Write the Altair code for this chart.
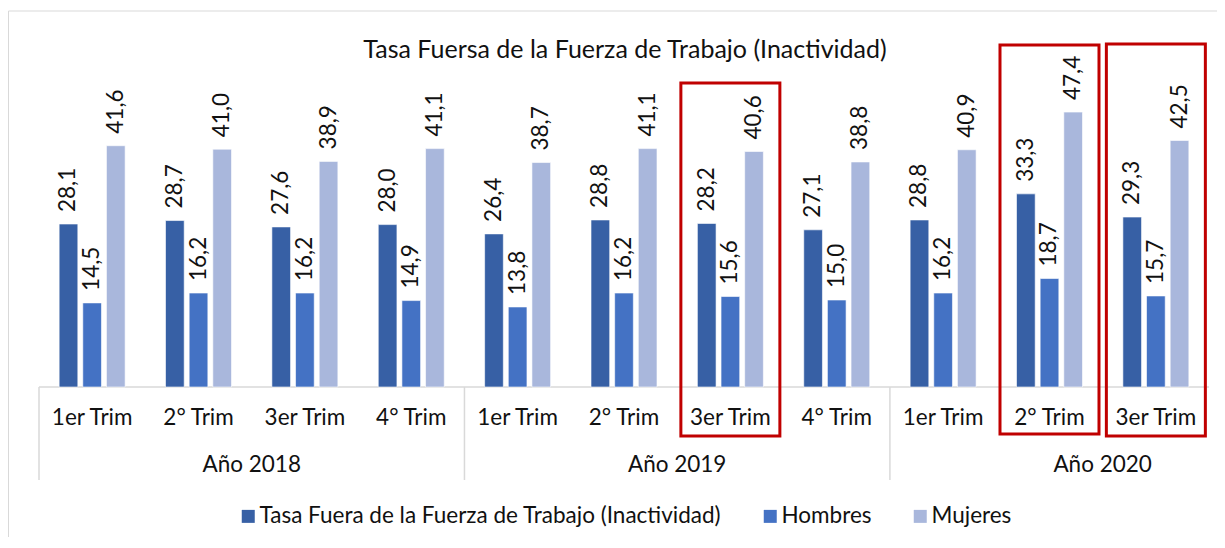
import altair as alt
import pandas as pd

# ---------------- data ----------------
quarters = ["1er Trim", "2° Trim", "3er Trim", "4° Trim",
            "1er Trim", "2° Trim", "3er Trim", "4° Trim",
            "1er Trim", "2° Trim", "3er Trim"]
years = ["Año 2018"] * 4 + ["Año 2019"] * 4 + ["Año 2020"] * 3
tasa = [28.1, 28.7, 27.6, 28.0, 26.4, 28.8, 28.2, 27.1, 28.8, 33.3, 29.3]
hombres = [14.5, 16.2, 16.2, 14.9, 13.8, 16.2, 15.6, 15.0, 16.2, 18.7, 15.7]
mujeres = [41.6, 41.0, 38.9, 41.1, 38.7, 41.1, 40.6, 38.8, 40.9, 47.4, 42.5]
series_names = ["Tasa Fuera de la Fuerza de Trabajo (Inactividad)", "Hombres", "Mujeres"]
series_colors = ["#3760A5", "#4472C4", "#A9B7DC"]
title_text = "Tasa Fuersa de la Fuerza de Trabajo (Inactividad)"

# ---------------- tables ----------------
keys = [f"{y}|{q}" for y, q in zip(years, quarters)]
rows = []
for i, k in enumerate(keys):
    for s, vals in zip(series_names, [tasa, hombres, mujeres]):
        rows.append({"key": k, "series": s, "value": vals[i]})
df = pd.DataFrame(rows)
df_q = pd.DataFrame({"key": keys, "quarter": quarters})
starts = [i for i in range(len(years)) if i == 0 or years[i] != years[i - 1]]
df_sep = pd.DataFrame({"pos": starts})
df_year = pd.DataFrame({"pos": [s + 2 for s in starts],
                        "year": [years[s] for s in starts]})
one = pd.DataFrame({"t": [title_text]})

FONT = "Lato"
TXT = "#111111"
GRID = "#d9d9d9"
FS = 22.5
W, H = 1170, 290
n = len(keys)

x_band = alt.X("key:N", axis=None,
               scale=alt.Scale(domain=keys, paddingInner=0.333, paddingOuter=0.166))
x_off = alt.XOffset("series:N",
                    scale=alt.Scale(domain=series_names, paddingInner=0.21, paddingOuter=0.105))
y_val = alt.Y("value:Q", axis=None, scale=alt.Scale(domain=[0, 50], nice=False))
x_lin = alt.X("pos:Q", axis=None, scale=alt.Scale(domain=[0, n], nice=False, zero=False))

bars = alt.Chart(df).mark_bar(stroke="white", strokeWidth=0.6).encode(
    x=x_band, xOffset=x_off, y=y_val,
    color=alt.Color("series:N",
                    scale=alt.Scale(domain=series_names, range=series_colors),
                    legend=alt.Legend(orient="none", legendX=198, legendY=408,
                                      direction="horizontal", title=None,
                                      symbolType="square", symbolSize=169,
                                      symbolStrokeWidth=0, labelFont=FONT,
                                      labelFontSize=FS, labelColor=TXT,
                                      labelOffset=0, columnPadding=37,
                                      labelLimit=800)),
)

labels = alt.Chart(df).transform_calculate(
    lbl="replace(format(datum.value, '.1f'), '.', ',')"
).mark_text(angle=270, align="left", baseline="middle", dx=12,
            font=FONT, fontSize=FS, color=TXT).encode(
    x=x_band, xOffset=x_off, y=y_val, text="lbl:N")

axis_line = alt.Chart(one).mark_rule(color=GRID, strokeWidth=1.5).encode(
    x=alt.value(0), x2=alt.value(W), y=alt.value(H))

seps = alt.Chart(df_sep).mark_rule(color=GRID, strokeWidth=1.5).encode(
    x=x_lin, y=alt.value(H), y2=alt.value(383))

q_labels = alt.Chart(df_q).mark_text(font=FONT, fontSize=FS, color=TXT,
                                     baseline="middle").encode(
    x=x_band, y=alt.value(321), text="quarter:N")

y_labels = alt.Chart(df_year).mark_text(font=FONT, fontSize=FS, color=TXT,
                                        baseline="middle").encode(
    x=x_lin, y=alt.value(368), text="year:N")

title = alt.Chart(one).mark_text(font=FONT, fontSize=25, color=TXT,
                                 baseline="middle").encode(
    x=alt.value(586), y=alt.value(-47), text="t:N")

border = alt.Chart(one).mark_rect(filled=False, stroke=GRID, strokeWidth=1).encode(
    x=alt.value(-30.5), x2=alt.value(1300), y=alt.value(-86), y2=alt.value(700))


def box(idx, top, bottom):
    d = pd.DataFrame({"key": [keys[idx]]})
    return alt.Chart(d).mark_bar(filled=False, stroke="#C00000", strokeWidth=3,
                                 width=99).encode(
        x=x_band, y=alt.value(top), y2=alt.value(bottom))


boxes = [box(6, -14, 339), box(9, -52, 337), box(10, -53, 339)]

chart = alt.layer(
    border, axis_line, seps, bars, labels, q_labels, y_labels, title, *boxes
).resolve_scale(x="independent").properties(
    width=W, height=H,
    autosize=alt.AutoSizeParams(type="none"),
    padding={"left": 31, "top": 89, "right": 8, "bottom": 150},
).configure_view(stroke=None)

chart.save("out.html", embed_options={"renderer": "svg", "actions": False})
